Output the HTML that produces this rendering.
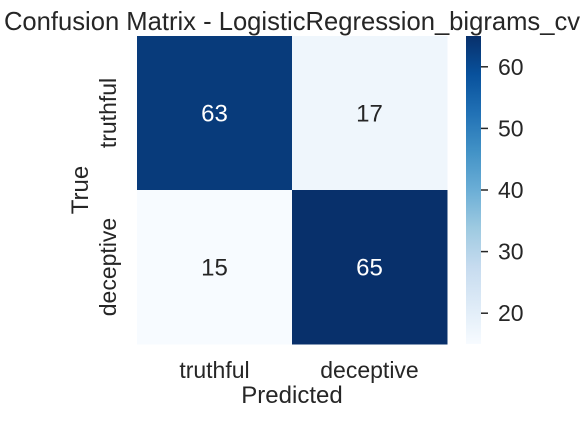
<!DOCTYPE html>
<html><head><meta charset="utf-8"><style>
body{margin:0;background:#fff;}
svg text{font-family:"Liberation Sans",Arial,sans-serif;}
</style></head><body>
<svg id="chart" width="583" height="420" xmlns="http://www.w3.org/2000/svg">
<defs><linearGradient id="cbg" x1="0" y1="1" x2="0" y2="0"></linearGradient></defs>
<text x="292" y="30" text-anchor="middle" font-size="25.6" fill="#262626">Confusion Matrix - LogisticRegression_bigrams_cv</text>
<g id="cells"></g>
<g id="axes"></g>
<rect x="466" y="36" width="15" height="308" fill="url(#cbg)"/>
<g id="cbar"></g>
<text x="292" y="403" text-anchor="middle" font-size="24" fill="#262626">Predicted</text>
<text transform="translate(88,190) rotate(-90)" text-anchor="middle" font-size="24" fill="#262626">True</text>
</svg>
<script>
const labels=["truthful","deceptive"];
const matrix=[[63,17],[15,65]];
const cbTicks=[20,30,40,50,60];
const vmin=15,vmax=65;
const X0=137,X1=447,Y0=36,Y1=344;
const ns="http://www.w3.org/2000/svg";
const blues=[[247,251,255],[222,235,247],[198,219,239],[158,202,225],[107,174,214],[66,146,198],[33,113,181],[8,81,156],[8,48,107]];
function cmap(t){t=Math.max(0,Math.min(1,t));const p=t*(blues.length-1),i=Math.min(Math.floor(p),blues.length-2),f=p-i;
const c=blues[i].map((v,k)=>Math.round(v+(blues[i+1][k]-v)*f));return `rgb(${c})`;}
function mk(tag,attrs,parent){const e=document.createElementNS(ns,tag);for(const k in attrs)e.setAttribute(k,attrs[k]);parent.appendChild(e);return e;}
const n=labels.length,cw=(X1-X0)/n,ch=(Y1-Y0)/n;
const cells=document.getElementById('cells'),axes=document.getElementById('axes'),cbar=document.getElementById('cbar');
matrix.forEach((row,r)=>row.forEach((v,c)=>{
 const t=(v-vmin)/(vmax-vmin);
 const rc=mk('rect',{x:X0+c*cw,y:Y0+r*ch,width:cw+0.5,height:ch+0.5,fill:cmap(t)},cells);
 
 
 const tx=mk('text',{x:X0+(c+.5)*cw,y:Y0+(r+.5)*ch+8.5,'text-anchor':'middle','font-size':'24',fill:t>0.5?'#fff':'#262626'},cells);
 tx.textContent=v;
 
 
}));
labels.forEach((l,i)=>{
 const tx=mk('text',{x:X0+(i+.5)*cw,y:378,'text-anchor':'middle','font-size':'23','fill':'#262626'},axes);
 tx.textContent=l;
 
 
 const cy=Y0+(i+.5)*ch;
 const ty=mk('text',{transform:`translate(116,${cy}) rotate(-90)`,'text-anchor':'middle','font-size':'23',fill:'#262626'},axes);
 ty.textContent=l;
 
 
});
const g=document.getElementById('cbg');
for(let i=0;i<=8;i++){mk('stop',{offset:i/8,'stop-color':cmap(i/8)},g);}
cbTicks.forEach(v=>{
 const y=Y1-(v-vmin)/(vmax-vmin)*(Y1-Y0);
 const ln=mk('line',{x1:481,x2:488,y1:y,y2:y,stroke:'#262626','stroke-width':1.5},cbar);
 
 
 const tx=mk('text',{x:498,y:y+8,'font-size':'23',fill:'#262626'},cbar);
 tx.textContent=v;
 
 
});
</script>
</body></html>
